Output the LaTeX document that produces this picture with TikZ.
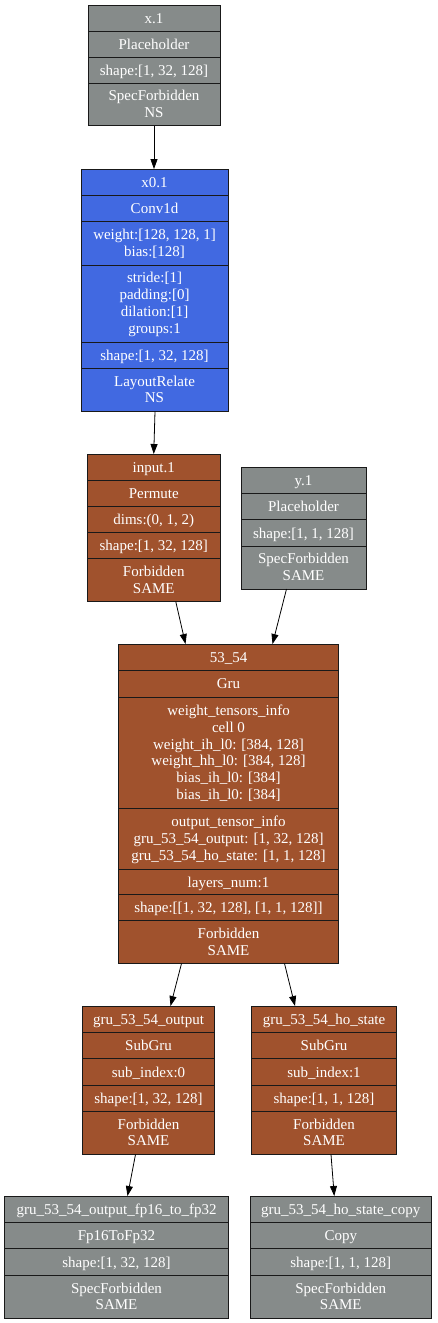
\documentclass[tikz,border=0pt]{standalone}
\usepackage{fontspec}
\setmainfont{Liberation Serif}
\newfontfamily\boxfont{Liberation Serif}
\usetikzlibrary{arrows.meta}
\definecolor{gcol}{RGB}{134,139,138}
\definecolor{bcol}{RGB}{65,105,225}
\definecolor{rcol}{RGB}{160,82,45}
\tikzset{
 rowst/.style={draw=black!90, line width=0.8pt},
 txt/.style={text=white, font=\boxfont\fontsize{15}{16.8}\selectfont, align=center, inner sep=0pt, yshift=-2pt, execute at begin node=\strut, execute at end node=\strut},
 frame/.style={draw=black!90, line width=0.8pt, inner sep=0pt, outer sep=0pt, anchor=north west},
 arr/.style={line width=0.8pt, -{Triangle[length=10pt,width=7pt]}},
}
\newcommand\mkbox[7]{%
 \foreach \a/\b/\tx in {#7}{\draw[rowst, fill=#2] (#3,\a) rectangle (#4,\b);
 \node[txt] at ({(#3+#4)/2},{(\a+\b)/2}) {\tx};}
 \node[frame, minimum width={#4-#3}, minimum height={#6-#5}] (#1) at (#3,#5) {};
}
\begin{document}
\begin{tikzpicture}[x=1pt,y=-1pt]
\useasboundingbox (0,0) rectangle (437,1323);
\mkbox{x1}{gcol}{88}{220}{5}{125.5}{5/31.5/x.1, 31.5/57/Placeholder, 57/83.5/{shape:[1, 32, 128]}, 83.5/125.5/{SpecForbidden\\NS}}
\mkbox{x01}{bcol}{81}{228}{169}{411.5}{169/195/x0.1, 195/221/Conv1d, 221/265/{weight:[128, 128, 1]\\bias:[128]}, 265/342/{stride:[1]\\padding:[0]\\dilation:[1]\\groups:1}, 342/368/{shape:[1, 32, 128]}, 368/411.5/{LayoutRelate\\NS}}
\mkbox{in1}{rcol}{87.5}{220}{454}{601.5}{454/480/input.1, 480/506/Permute, 506/532/{dims:(0, 1, 2)}, 532/558.5/{shape:[1, 32, 128]}, 558.5/601.5/{Forbidden\\SAME}}
\mkbox{y1}{gcol}{241}{366}{467}{589}{467/493/y.1, 493/519.5/Placeholder, 519.5/546/{shape:[1, 1, 128]}, 546/589/{SpecForbidden\\SAME}}
\mkbox{g}{rcol}{118.5}{338.5}{644}{963.5}{644/670/53\_54, 670/697/Gru, 697/808.5/{weight\_tensors\_info\\cell 0\\weight\_ih\_l0: [384, 128]\\weight\_hh\_l0: [384, 128]\\bias\_ih\_l0: [384]\\bias\_ih\_l0: [384]}, 808.5/869/{output\_tensor\_info\\gru\_53\_54\_output: [1, 32, 128]\\gru\_53\_54\_ho\_state: [1, 1, 128]}, 869/894.5/layers\_num:1, 894.5/920.5/{shape:[[1, 32, 128], [1, 1, 128]]}, 920.5/963.5/{Forbidden\\SAME}}
\mkbox{go}{rcol}{82.5}{214.5}{1006}{1154.5}{1006/1032.5/gru\_53\_54\_output, 1032.5/1058.5/SubGru, 1058.5/1085/sub\_index:0, 1085/1111/{shape:[1, 32, 128]}, 1111/1154.5/{Forbidden\\SAME}}
\mkbox{gh}{rcol}{251.5}{396.5}{1006}{1154.5}{1006/1032.5/gru\_53\_54\_ho\_state, 1032.5/1058.5/SubGru, 1058.5/1085/sub\_index:1, 1085/1111/{shape:[1, 1, 128]}, 1111/1154.5/{Forbidden\\SAME}}
\mkbox{fp}{gcol}{4.5}{228.5}{1196}{1318.5}{1196/1222.5/gru\_53\_54\_output\_fp16\_to\_fp32, 1222.5/1248.5/Fp16ToFp32, 1248.5/1275/{shape:[1, 32, 128]}, 1275/1318.5/{SpecForbidden\\SAME}}
\mkbox{cp}{gcol}{250}{431.5}{1196}{1318.5}{1196/1222.5/gru\_53\_54\_ho\_state\_copy, 1222.5/1248.5/Copy, 1248.5/1275/{shape:[1, 1, 128]}, 1275/1318.5/{SpecForbidden\\SAME}}
\draw[arr] (x1.south) -- ([xshift=-0.5pt]x01.north);
\draw[arr] ([xshift=0.5pt]x01.south) -- (in1.north);
\draw[arr] ([xshift=22pt]in1.south) -- ([xshift=-43pt]g.north);
\draw[arr] ([xshift=-17pt]y1.south) -- ([xshift=44pt]g.north);
\draw[arr] ([xshift=-47pt]g.south) -- ([xshift=22pt]go.north);
\draw[arr] ([xshift=56pt]g.south) -- ([xshift=-29pt]gh.north);
\draw[arr] ([xshift=-13pt]go.south) -- ([xshift=11pt]fp.north);
\draw[arr] ([xshift=7pt]gh.south) -- ([xshift=-6.5pt]cp.north);
\end{tikzpicture}
\end{document}
